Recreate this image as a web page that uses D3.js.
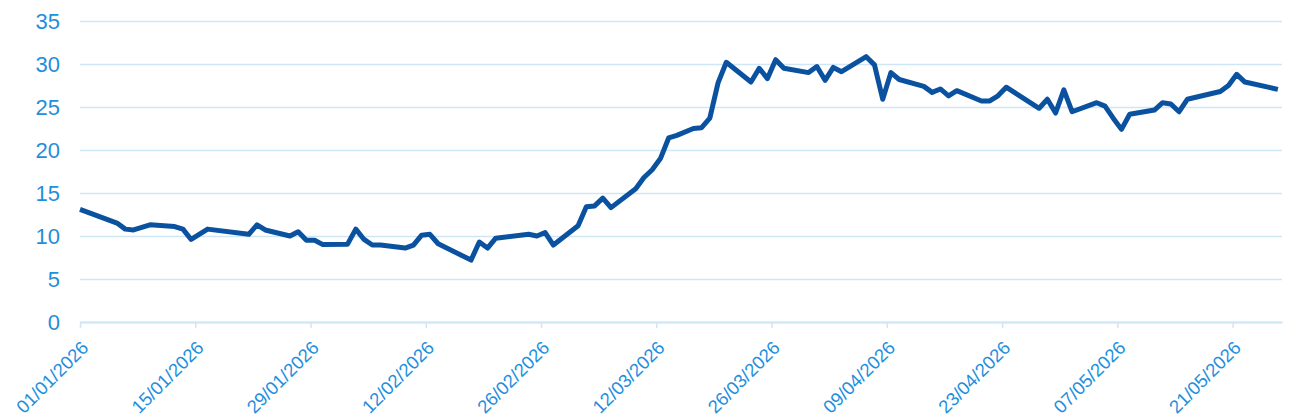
<!DOCTYPE html>
<html>
<head>
<meta charset="utf-8">
<script src="https://cdn.jsdelivr.net/npm/d3@7"></script>
<style>
    body { margin: 0; background: #ffffff; }
    #chart { font-family: "Liberation Sans", Arial, sans-serif; }
</style>
</head>
<body>
<div id="chart"></div>
<script>
var dates = [
    "01/01/2026","05/01/2026","06/01/2026","07/01/2026","09/01/2026","12/01/2026","13/01/2026","14/01/2026",
    "16/01/2026","21/01/2026","22/01/2026","23/01/2026","26/01/2026","27/01/2026","28/01/2026","29/01/2026",
    "30/01/2026","02/02/2026","03/02/2026","04/02/2026","05/02/2026","06/02/2026","09/02/2026","10/02/2026",
    "11/02/2026","12/02/2026","13/02/2026","17/02/2026","18/02/2026","19/02/2026","20/02/2026","24/02/2026",
    "25/02/2026","26/02/2026","27/02/2026","02/03/2026","03/03/2026","04/03/2026","05/03/2026","06/03/2026",
    "09/03/2026","10/03/2026","11/03/2026","12/03/2026","13/03/2026","14/03/2026","16/03/2026","17/03/2026",
    "18/03/2026","19/03/2026","20/03/2026","23/03/2026","24/03/2026","25/03/2026","26/03/2026","27/03/2026",
    "30/03/2026","31/03/2026","01/04/2026","02/04/2026","03/04/2026","06/04/2026","07/04/2026","08/04/2026",
    "09/04/2026","10/04/2026","13/04/2026","14/04/2026","15/04/2026","16/04/2026","17/04/2026","20/04/2026",
    "21/04/2026","22/04/2026","23/04/2026","27/04/2026","28/04/2026","29/04/2026","30/04/2026","01/05/2026",
    "04/05/2026","05/05/2026","06/05/2026","07/05/2026","08/05/2026","11/05/2026","12/05/2026","13/05/2026",
    "14/05/2026","15/05/2026","19/05/2026","20/05/2026","21/05/2026","22/05/2026","26/05/2026"
];

var values = [
    13.1, 11.5, 10.8, 10.7, 11.3, 11.1, 10.8, 9.6,
    10.8, 10.2, 11.3, 10.7, 10.0, 10.5, 9.5, 9.5,
    9.0, 9.05, 10.8, 9.6, 8.95, 8.95, 8.6, 8.95,
    10.1, 10.2, 9.1, 7.2, 9.3, 8.6, 9.75, 10.2,
    10.0, 10.4, 8.95, 11.2, 13.4, 13.5, 14.4, 13.3,
    15.5, 16.8, 17.7, 19.0, 21.4, 21.7, 22.5, 22.6,
    23.7, 27.8, 30.2, 27.9, 29.5, 28.3, 30.5, 29.5,
    29.0, 29.7, 28.1, 29.6, 29.1, 30.85, 29.9, 25.9,
    29.0, 28.2, 27.4, 26.7, 27.1, 26.3, 26.9, 25.7,
    25.7, 26.3, 27.3, 24.85, 25.9, 24.3, 27.0, 24.45,
    25.5, 25.1, 23.7, 22.4, 24.15, 24.65, 25.5, 25.35,
    24.45, 25.9, 26.8, 27.5, 28.8, 27.9, 27.05
];

var yTicks = [0, 5, 10, 15, 20, 25, 30, 35];
var xTickLabels = ["01/01/2026","15/01/2026","29/01/2026","12/02/2026","26/02/2026","12/03/2026",
    "26/03/2026","09/04/2026","23/04/2026","07/05/2026","21/05/2026"];
var xEnd = "27/05/2026";

var LABEL_COLOR = "#1e8fdc";
var GRID_COLOR = "#cfe6f7";
var LINE_COLOR = "#0a52a0";

LineChart = function(x, y, w, h){
    this.x = x;
    this.y = y;
    this.w = w;
    this.h = h;
    this.parse = d3.timeParse("%d/%m/%Y");

    this.init();
};

LineChart.prototype.init = function(){
    this.svg = d3.select("#chart")
        .append("svg")
        .attr("width", 1300)
        .attr("height", 418);

    this.xScale = d3.scaleTime()
        .domain([this.parse(xTickLabels[0]), this.parse(xEnd)])
        .range([this.x, this.x + this.w]);

    this.yScale = d3.scaleLinear()
        .domain([0, 35])
        .range([this.y + this.h, this.y]);

    this.drawGrid();
    this.drawXAxis();
    this.drawLine();
};

LineChart.prototype.drawGrid = function(){
    var grid = this.svg.append("g")
        .attr("class", "grid")
        .attr("transform", "translate(" + this.x + ",0)")
        .call(d3.axisLeft(this.yScale)
            .tickValues(yTicks)
            .tickSize(-this.w)
            .tickPadding(20)
            .tickFormat(d3.format("d")));

    grid.select(".domain").remove();
    grid.selectAll(".tick line")
        .style("stroke", GRID_COLOR)
        .style("stroke-width", 1.5);
    grid.selectAll(".tick text")
        .style("fill", LABEL_COLOR)
        .style("font-size", "22px")
        .attr("dy", "0.35em");
};

LineChart.prototype.drawXAxis = function(){
    var $this = this;

    var axis = this.svg.append("g")
        .attr("class", "xaxis")
        .attr("transform", "translate(0," + (this.y + this.h) + ")")
        .call(d3.axisBottom(this.xScale)
            .tickValues(xTickLabels.map(function(d){ return $this.parse(d); }))
            .tickSizeInner(6)
            .tickSizeOuter(0)
            .tickFormat(d3.timeFormat("%d/%m/%Y")));

    axis.select(".domain")
        .style("stroke", GRID_COLOR)
        .style("stroke-width", 2);
    axis.selectAll(".tick line")
        .style("stroke", GRID_COLOR)
        .style("stroke-width", 1.5);
    axis.selectAll(".tick text")
        .style("fill", LABEL_COLOR)
        .style("font-size", "18.5px")
        .style("text-anchor", "end")
        .attr("x", 0)
        .attr("y", 0)
        .attr("dy", 0)
        .attr("transform", "translate(9,27) rotate(-45)");
};

LineChart.prototype.drawLine = function(){
    var $this = this;

    var data = dates.map(function(d, i){
        // points sit at midday of their date
        return { date: d3.timeHour.offset($this.parse(d), i == 0 ? 0 : 12), value: values[i] };
    });

    var line = d3.line()
        .x(function(d){ return $this.xScale(d.date); })
        .y(function(d){ return $this.yScale(d.value); });

    this.svg.append("path")
        .datum(data)
        .attr("d", line)
        .style("fill", "none")
        .style("stroke", LINE_COLOR)
        .style("stroke-width", 5)
        .style("stroke-linejoin", "round");
};

new LineChart(80, 21, 1202, 301);
</script>
</body>
</html>
